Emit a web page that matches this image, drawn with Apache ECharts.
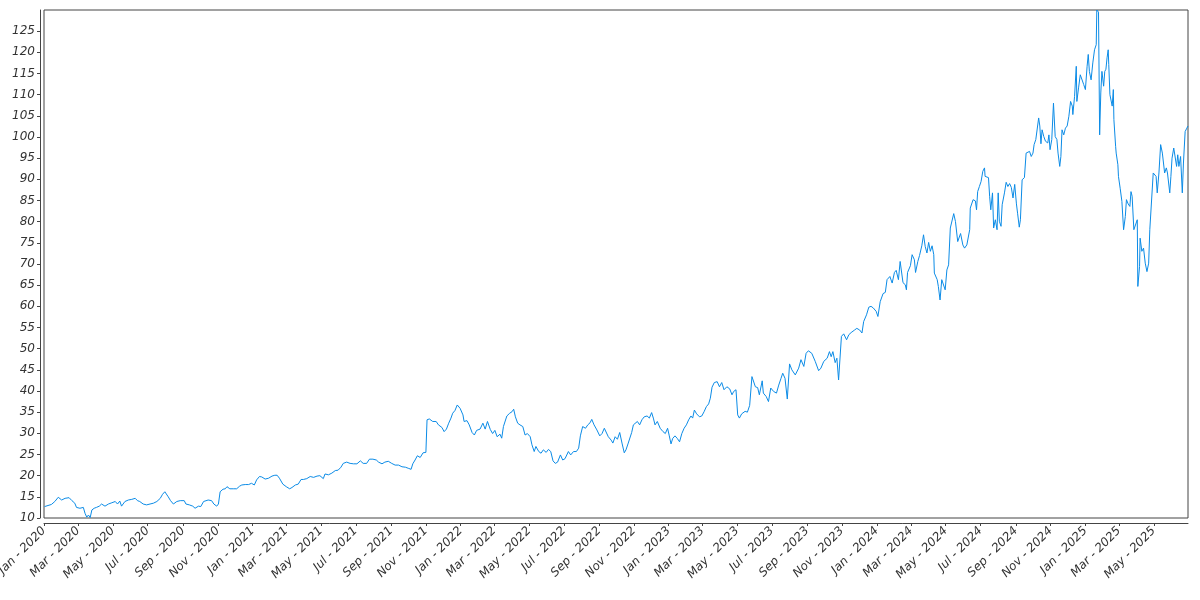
<!DOCTYPE html>
<html>
<head>
<meta charset="utf-8">
<script src="https://cdn.jsdelivr.net/npm/echarts@6/dist/echarts.min.js"></script>
<style>html,body{margin:0;padding:0;background:#fff}#chart{width:1200px;height:600px}</style>
</head>
<body>
<div id="chart"></div>
<script>
// ---------- data ----------
const startDate = '2020-01-01';
const endDate = '2025-06-30';
const monthNames = ['Jan','Feb','Mar','Apr','May','Jun','Jul','Aug','Sep','Oct','Nov','Dec'];
const yMin = 10, yMax = 130, yStep = 5;

const dates = [
'2020-01-02','2020-01-14','2020-01-20','2020-01-26','2020-02-01','2020-02-07','2020-02-14','2020-02-19','2020-02-24','2020-02-27',
'2020-03-04','2020-03-10','2020-03-13','2020-03-16','2020-03-19','2020-03-22','2020-03-25','2020-03-29','2020-04-02','2020-04-07',
'2020-04-11','2020-04-17','2020-04-23','2020-04-29','2020-05-05','2020-05-09','2020-05-13','2020-05-16','2020-05-22','2020-05-28',
'2020-06-03','2020-06-09','2020-06-13','2020-06-17','2020-06-23','2020-06-29','2020-07-05','2020-07-11','2020-07-17','2020-07-23',
'2020-07-27','2020-07-31','2020-08-03','2020-08-06','2020-08-10','2020-08-15','2020-08-21','2020-08-27','2020-09-03','2020-09-06',
'2020-09-12','2020-09-18','2020-09-22','2020-09-28','2020-10-02','2020-10-07','2020-10-10','2020-10-15','2020-10-21','2020-10-25',
'2020-10-30','2020-11-02','2020-11-05','2020-11-10','2020-11-14','2020-11-17','2020-11-22','2020-11-28','2020-12-04','2020-12-09',
'2020-12-13','2020-12-19','2020-12-25','2020-12-30','2021-01-04','2021-01-08','2021-01-13','2021-01-17','2021-01-23','2021-01-29',
'2021-02-04','2021-02-09','2021-02-13','2021-02-17','2021-02-23','2021-03-01','2021-03-07','2021-03-11','2021-03-17','2021-03-22',
'2021-03-27','2021-03-31','2021-04-06','2021-04-12','2021-04-18','2021-04-24','2021-04-29','2021-05-05','2021-05-08','2021-05-14',
'2021-05-20','2021-05-26','2021-05-31','2021-06-05','2021-06-09','2021-06-15','2021-06-21','2021-06-27','2021-07-03','2021-07-09',
'2021-07-14','2021-07-20','2021-07-25','2021-07-31','2021-08-06','2021-08-10','2021-08-16','2021-08-21','2021-08-27','2021-09-02',
'2021-09-08','2021-09-14','2021-09-20','2021-09-26','2021-10-01','2021-10-06','2021-10-09','2021-10-13','2021-10-17','2021-10-22',
'2021-10-27','2021-11-01','2021-11-03','2021-11-07','2021-11-13','2021-11-19','2021-11-23','2021-11-29','2021-12-03','2021-12-07',
'2021-12-11','2021-12-15','2021-12-18','2021-12-22','2021-12-26','2021-12-31','2022-01-05','2022-01-07','2022-01-12','2022-01-16',
'2022-01-21','2022-01-25','2022-01-29','2022-02-04','2022-02-09','2022-02-13','2022-02-17','2022-02-22','2022-02-26','2022-03-02',
'2022-03-06','2022-03-11','2022-03-14','2022-03-17','2022-03-23','2022-03-28','2022-04-01','2022-04-04','2022-04-07','2022-04-11',
'2022-04-15','2022-04-20','2022-04-24','2022-04-28','2022-05-03','2022-05-06','2022-05-10','2022-05-13','2022-05-18','2022-05-22',
'2022-05-26','2022-05-31','2022-06-04','2022-06-08','2022-06-12','2022-06-16','2022-06-20','2022-06-25','2022-06-29','2022-07-03',
'2022-07-09','2022-07-13','2022-07-18','2022-07-23','2022-07-27','2022-07-30','2022-08-03','2022-08-08','2022-08-12','2022-08-16',
'2022-08-19','2022-08-23','2022-08-28','2022-09-02','2022-09-06','2022-09-10','2022-09-13','2022-09-17','2022-09-22','2022-09-25',
'2022-09-29','2022-10-03','2022-10-07','2022-10-11','2022-10-15','2022-10-18','2022-10-22','2022-10-25','2022-10-28','2022-10-31',
'2022-11-03','2022-11-07','2022-11-11','2022-11-15','2022-11-19','2022-11-24','2022-11-28','2022-12-02','2022-12-05','2022-12-08',
'2022-12-12','2022-12-17','2022-12-22','2022-12-26','2022-12-30','2023-01-02','2023-01-05','2023-01-08','2023-01-12','2023-01-16',
'2023-01-20','2023-01-24','2023-01-28','2023-02-01','2023-02-05','2023-02-09','2023-02-12','2023-02-15','2023-02-19','2023-02-24',
'2023-02-28','2023-03-04','2023-03-08','2023-03-12','2023-03-15','2023-03-18','2023-03-22','2023-03-27','2023-03-31','2023-04-04',
'2023-04-08','2023-04-13','2023-04-18','2023-04-22','2023-04-25','2023-04-29','2023-05-02','2023-05-05','2023-05-09','2023-05-15',
'2023-05-19','2023-05-23','2023-05-27','2023-05-30','2023-06-02','2023-06-06','2023-06-09','2023-06-14','2023-06-16','2023-06-21',
'2023-06-25','2023-06-29','2023-07-04','2023-07-09','2023-07-13','2023-07-17','2023-07-20','2023-07-24','2023-07-28','2023-08-01',
'2023-08-05','2023-08-11','2023-08-17','2023-08-21','2023-08-26','2023-08-30','2023-09-03','2023-09-09','2023-09-15','2023-09-21',
'2023-09-25','2023-09-30','2023-10-06','2023-10-10','2023-10-13','2023-10-16','2023-10-20','2023-10-23','2023-10-26','2023-10-31',
'2023-11-04','2023-11-09','2023-11-13','2023-11-17','2023-11-23','2023-11-27','2023-12-02','2023-12-06','2023-12-09','2023-12-14',
'2023-12-18','2023-12-22','2023-12-26','2023-12-31','2024-01-03','2024-01-07','2024-01-12','2024-01-16','2024-01-19','2024-01-24',
'2024-01-28','2024-02-01','2024-02-04','2024-02-08','2024-02-11','2024-02-16','2024-02-20','2024-02-22','2024-02-24','2024-02-29',
'2024-03-03','2024-03-07','2024-03-09','2024-03-13','2024-03-16','2024-03-20','2024-03-23','2024-03-26','2024-03-29','2024-04-01',
'2024-04-04','2024-04-07','2024-04-10','2024-04-11','2024-04-16','2024-04-18','2024-04-21','2024-04-24','2024-04-27','2024-04-30',
'2024-05-03','2024-05-06','2024-05-09','2024-05-12','2024-05-15','2024-05-18','2024-05-21','2024-05-22','2024-05-27','2024-05-31',
'2024-06-03','2024-06-07','2024-06-10','2024-06-12','2024-06-13','2024-06-18','2024-06-22','2024-06-24','2024-06-26','2024-06-29',
'2024-07-02','2024-07-05','2024-07-08','2024-07-09','2024-07-12','2024-07-15','2024-07-17','2024-07-19','2024-07-22','2024-07-24',
'2024-07-27','2024-07-29','2024-07-30','2024-08-01','2024-08-03','2024-08-06','2024-08-08','2024-08-11','2024-08-12','2024-08-15',
'2024-08-18','2024-08-21','2024-08-24','2024-08-27','2024-08-30','2024-09-02','2024-09-04','2024-09-07','2024-09-09','2024-09-12',
'2024-09-16','2024-09-18','2024-09-19','2024-09-22','2024-09-25','2024-09-28','2024-10-01','2024-10-03','2024-10-06','2024-10-08',
'2024-10-11','2024-10-13','2024-10-15','2024-10-17','2024-10-20','2024-10-23','2024-10-27','2024-10-29','2024-10-31','2024-11-03',
'2024-11-06','2024-11-09','2024-11-12','2024-11-14','2024-11-17','2024-11-19','2024-11-21','2024-11-24','2024-11-27','2024-11-30',
'2024-12-03','2024-12-06','2024-12-09','2024-12-10','2024-12-13','2024-12-16','2024-12-17','2024-12-20','2024-12-23','2024-12-26',
'2024-12-29','2025-01-01','2025-01-04','2025-01-06','2025-01-08','2025-01-11','2025-01-14','2025-01-17','2025-01-20','2025-01-21',
'2025-01-24','2025-01-26','2025-01-28','2025-01-30','2025-02-02','2025-02-04','2025-02-06','2025-02-08','2025-02-10','2025-02-11',
'2025-02-13','2025-02-15','2025-02-17','2025-02-19','2025-02-20','2025-02-23','2025-02-24','2025-02-27','2025-02-28','2025-03-03',
'2025-03-06','2025-03-09','2025-03-12','2025-03-14','2025-03-17','2025-03-20','2025-03-22','2025-03-24','2025-03-27','2025-03-30',
'2025-04-02','2025-04-03','2025-04-06','2025-04-07','2025-04-10','2025-04-13','2025-04-16','2025-04-19','2025-04-22','2025-04-24',
'2025-04-27','2025-04-30','2025-05-02','2025-05-05','2025-05-07','2025-05-10','2025-05-13','2025-05-16','2025-05-18','2025-05-20',
'2025-05-23','2025-05-25','2025-05-29','2025-05-31','2025-06-02','2025-06-05','2025-06-08','2025-06-10','2025-06-12','2025-06-14',
'2025-06-17','2025-06-20','2025-06-22','2025-06-25','2025-06-28','2025-06-30'
];

const prices = [
12.7,13.2,13.9,14.9,14.25,14.65,14.8,14.1,13.5,12.5,
12.3,12.5,11.1,10.2,10.7,10.1,11.9,12.3,12.5,12.8,
13.3,12.8,13.3,13.6,13.9,13.3,14.0,12.8,13.9,14.25,
14.4,14.65,14.1,13.9,13.3,13.1,13.3,13.5,13.9,14.65,
15.6,16.2,16.6,15.0,14.1,13.3,13.9,14.1,14.1,13.3,
13.1,12.8,12.3,12.8,12.7,13.9,14.25,14.25,14.1,13.3,
12.8,13.3,16.2,16.8,16.9,17.4,16.9,16.9,16.9,17.5,
17.8,17.9,17.9,18.2,17.8,19.0,19.8,19.7,19.2,19.4,
19.9,20.1,20.1,19.4,18.0,17.4,16.9,17.2,17.8,18.0,
19.1,19.1,19.3,19.8,19.6,19.9,20.0,19.3,20.4,20.2,
20.6,21.2,21.3,22.0,22.9,23.2,22.9,22.8,22.8,23.5,
22.9,22.9,23.9,23.9,23.7,23.2,22.8,23.2,23.4,22.9,
22.5,22.5,22.1,22.0,21.75,21.5,22.8,23.7,24.7,24.3,
25.4,25.5,33.2,33.4,32.8,32.8,32.0,31.4,30.4,31.0,
32.4,33.6,34.75,35.4,36.7,35.9,34.35,32.8,33.0,32.0,
30.2,29.6,30.7,31.0,32.4,31.0,32.8,30.9,29.95,30.7,
29.2,29.8,28.85,31.6,34.1,34.75,35.1,35.7,33.9,32.4,
32.0,31.6,29.6,29.95,29.2,27.3,25.7,26.9,25.7,25.3,
26.1,25.5,26.2,25.7,23.5,22.9,23.2,24.9,23.7,24.0,
25.7,24.9,25.7,25.7,26.5,29.4,31.6,31.2,32.0,32.5,
33.3,32.0,30.8,29.4,29.95,31.2,30.8,29.2,28.4,27.7,
29.2,28.6,30.2,27.7,25.4,26.1,27.7,27.3,30.2,32.0,
31.6,32.8,32.0,33.2,33.9,34.1,33.6,34.9,33.6,32.0,
32.8,31.2,30.4,29.95,31.2,29.4,27.5,28.8,29.4,28.8,
28.0,29.95,31.2,32.0,33.2,34.1,33.6,35.5,34.6,33.9,
34.1,35.1,36.3,36.95,38.3,40.9,42.0,42.2,41.0,42.0,
40.3,41.0,40.5,39.1,39.9,40.3,34.35,33.6,34.6,35.2,
35.0,36.6,43.4,43.8,41.0,40.8,39.1,42.4,39.5,38.7,
37.5,40.7,39.9,39.5,41.4,43.0,44.2,43.0,38.1,46.4,
45.0,43.8,45.4,47.4,45.8,48.9,49.5,48.9,47.0,44.8,
45.4,47.0,47.75,49.3,48.1,49.3,46.7,47.75,42.6,52.9,
53.5,52.1,53.3,53.8,54.4,54.8,54.4,53.7,56.4,58.0,
59.8,60.0,59.6,58.8,57.6,61.1,63.0,63.3,66.3,67.05,
65.5,68.0,68.5,66.3,70.6,65.6,65.1,63.9,68.0,69.6,
72.2,71.0,68.0,70.6,72.0,74.3,76.9,74.1,72.6,75.1,
73.0,74.3,72.2,67.85,66.3,64.7,61.5,66.3,65.9,63.9,
68.6,69.8,78.5,78.1,81.9,80.05,80.0,75.3,77.2,74.5,
73.75,74.5,74.5,78.1,83.2,85.2,84.9,82.8,87.1,88.3,
89.5,91.9,92.7,90.7,90.4,90.4,86.0,82.8,86.8,78.5,
80.45,80.1,78.1,86.8,80.1,78.9,84.0,84.2,86.8,89.3,
88.3,89.0,88.1,85.6,88.8,84.2,82.0,78.7,80.45,89.9,
90.4,90.7,96.2,96.6,96.6,95.4,96.2,98.2,99.4,99.0,
104.5,102.6,98.4,101.7,100.1,99.0,98.6,100.5,97.0,99.4,
108.0,100.1,99.4,96.2,93.05,95.4,101.7,100.5,102.1,102.6,
104.9,108.4,107.3,105.3,109.6,116.7,108.4,111.6,114.7,115.1,
112.4,111.2,116.7,119.5,115.5,113.5,117.5,120.6,121.8,130,
129.5,100.5,110.4,115.5,112.0,115.5,116.0,118.7,120.6,117.1,
110.0,109.6,107.3,111.2,104.1,97.8,96.2,93.45,90.7,87.9,
84.8,78.1,81.2,85.2,84.2,83.6,87.1,86.0,78.1,77.7,
80.45,64.7,69.4,76.1,73.0,73.75,70.2,68.2,70.2,78.1,
78.5,91.5,91.2,90.7,86.8,91.5,98.2,96.2,96.6,91.5,
92.7,91.5,86.8,90.7,95.0,97.4,97.0,93.05,95.8,93.05,
95.4,86.8,93.85,101.3,102.1,102.6
];

// ---------- build calendar-day categories ----------
const DAY = 86400000;
const t0 = Date.parse(startDate + 'T00:00:00Z');
const t1 = Date.parse(endDate + 'T00:00:00Z');
const categories = [];
for (let t = t0; t <= t1; t += DAY) categories.push(new Date(t).toISOString().slice(0, 10));
const seriesData = new Array(categories.length).fill(null);
dates.forEach((d, i) => {
  const idx = Math.round((Date.parse(d + 'T00:00:00Z') - t0) / DAY);
  if (idx >= 0 && idx < seriesData.length) seriesData[idx] = prices[i];
});
const isMajor = (idx, val) => val.slice(8) === '01' && (+val.slice(5, 7)) % 2 === 1;
const fmtDate = val => monthNames[+val.slice(5, 7) - 1] + ' - ' + val.slice(0, 4);

const axisColor = '#444';
const labelStyle = { fontFamily: 'DejaVu Sans', fontStyle: 'italic', fontSize: 12, color: '#333' };

const chart = echarts.init(document.getElementById('chart'), null, { renderer: 'canvas' });
chart.setOption({
  animation: false,
  backgroundColor: '#fff',
  grid: { left: 44, right: 12, top: 10, bottom: 82, show: true, borderColor: axisColor, borderWidth: 1, backgroundColor: '#fff', containLabel: false, outerBoundsMode: 'none' },
  xAxis: {
    type: 'category',
    data: categories,
    boundaryGap: false,
    offset: 5,
    axisLine: { show: true, lineStyle: { color: axisColor, width: 1 } },
    axisTick: { show: true, length: 3, interval: isMajor, lineStyle: { color: axisColor } },
    axisLabel: Object.assign({ rotate: 45, margin: 6, interval: isMajor, formatter: fmtDate }, labelStyle),
    splitLine: { show: false }
  },
  yAxis: {
    type: 'value',
    min: yMin, max: yMax, interval: yStep,
    offset: 4,
    axisLine: { show: true, lineStyle: { color: axisColor, width: 1 } },
    axisTick: { show: true, length: 3, lineStyle: { color: axisColor } },
    axisLabel: Object.assign({ margin: 5, showMaxLabel: false }, labelStyle),
    splitLine: { show: false }
  },
  series: [{
    type: 'line',
    data: seriesData,
    connectNulls: true,
    showSymbol: false,
    symbol: 'none',
    lineStyle: { color: '#0b8be6', width: 1 },
    itemStyle: { color: '#0b8be6' },
    emphasis: { disabled: true },
    clip: true
  }]
});
</script>
</body>
</html>
